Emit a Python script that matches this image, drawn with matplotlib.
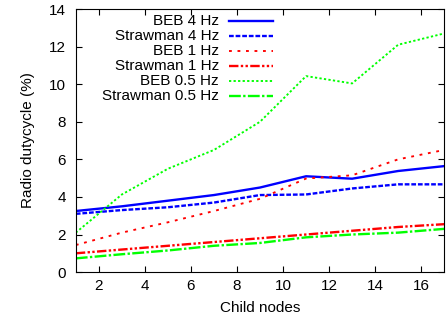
import matplotlib
matplotlib.use("Agg")
import matplotlib.pyplot as plt

plt.rcParams['font.family'] = ['Liberation Sans', 'DejaVu Sans']

# Data
nodes = [1, 3, 5, 7, 9, 11, 13, 15, 17]
beb_4hz = [3.25, 3.5, 3.8, 4.1, 4.5, 5.1, 4.97, 5.38, 5.64]
straw_4hz = [3.1, 3.3, 3.45, 3.7, 4.1, 4.13, 4.45, 4.67, 4.67]
beb_1hz = [1.44, 2.1, 2.65, 3.25, 3.9, 4.98, 5.15, 6.0, 6.5]
straw_1hz = [1.0, 1.2, 1.4, 1.6, 1.8, 2.0, 2.2, 2.4, 2.55]
beb_05hz = [2.1, 4.13, 5.5, 6.5, 8.0, 10.43, 10.04, 12.1, 12.7]
straw_05hz = [0.73, 0.95, 1.15, 1.4, 1.55, 1.85, 2.0, 2.1, 2.3]

W, H = 446, 322
fig = plt.figure(figsize=(W / 100, H / 100), dpi=100)
ax = fig.add_axes([0.170, 0.155, 0.826, 0.817])

lw = 1.7
series = [
    (beb_4hz, 'BEB 4 Hz', dict(color='#0000ff', lw=lw, ls='-')),
    (straw_4hz, 'Strawman 4 Hz', dict(color='#0000ff', lw=lw, ls=(0, (2, 0.8)))),
    (beb_1hz, 'BEB 1 Hz', dict(color='#ff0000', lw=lw * 0.8, ls=(0, (1.5, 3)))),
    (straw_1hz, 'Strawman 1 Hz', dict(color='#ff0000', lw=lw, ls=(0, (4, 1, 1, 1, 1, 1)))),
    (beb_05hz, 'BEB 0.5 Hz', dict(color='#00ff00', lw=lw * 0.8, ls=(0, (1.2, 1.2)))),
    (straw_05hz, 'Strawman 0.5 Hz', dict(color='#00ff00', lw=lw, ls=(0, (5, 1, 1, 1)))),
]

for i, (vals, name, style) in enumerate(series):
    ax.plot(nodes, vals, **style)
    # gnuplot-style key: right-aligned label, sample line after it
    y = 1 - (21 + 15 * i) / H
    fig.text(219 / W, y, name, ha='right', va='center', fontsize=11)
    ax.plot([229 / W, 273 / W], [y, y], transform=fig.transFigure,
            clip_on=False, **style)

ax.set_xlim(1, 17)
ax.set_ylim(0, 14)
ax.set_xticks(range(2, 17, 2))
ax.set_yticks(range(0, 15, 2))
ax.tick_params(direction='in', top=True, right=True, labelsize=11, length=4)
ax.tick_params(axis='x', pad=5)
ax.tick_params(axis='y', pad=7)
ax.set_xlabel('Child nodes', fontsize=11, labelpad=6)
ax.set_ylabel('Radio dutycycle (%)', fontsize=11, labelpad=10)

fig.savefig('out.png', dpi=100)
